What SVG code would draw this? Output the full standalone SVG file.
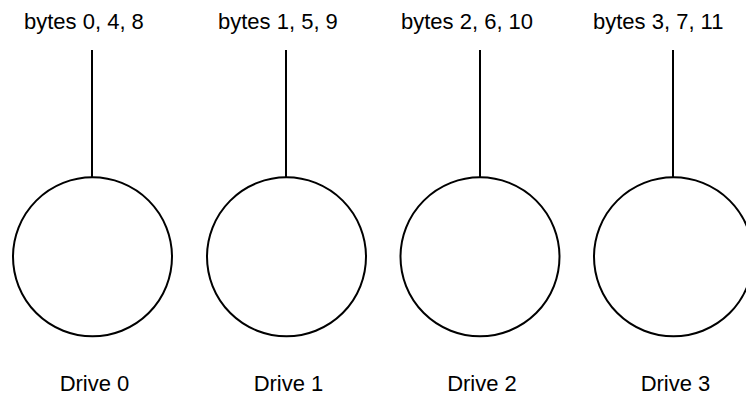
<svg xmlns="http://www.w3.org/2000/svg" width="746" height="396" viewBox="0 0 746 396">
<style>
.lbl{font-family:"Liberation Sans",Arial,sans-serif;font-size:22px;fill:#000}
.disk{fill:#fff;stroke:#000;stroke-width:2}
.wire{stroke:#000;stroke-width:2;fill:none}
</style>
<rect width="746" height="396" fill="#fff"/>
<g id="connectors">
<line class="wire" x1="92" y1="50" x2="92" y2="177"/>
<line class="wire" x1="286" y1="50" x2="286" y2="177"/>
<line class="wire" x1="480" y1="50" x2="480" y2="177"/>
<line class="wire" x1="673" y1="50" x2="673" y2="177"/>
</g>
<g id="label0"><text class="lbl" x="24" y="29">bytes 0, 4, 8</text></g>
<g id="label1"><text class="lbl" x="218" y="29">bytes 1, 5, 9</text></g>
<g id="label2"><text class="lbl" x="401" y="29">bytes 2, 6, 10</text></g>
<g id="label3"><text class="lbl" x="593" y="29">bytes 3, 7, 11</text></g>
<g id="drive0"><circle class="disk" cx="92.5" cy="256.8" r="79.5"/><text class="lbl" x="94.5" y="391" text-anchor="middle">Drive 0</text></g>
<g id="drive1"><circle class="disk" cx="286.5" cy="256.8" r="79.5"/><text class="lbl" x="288.5" y="391" text-anchor="middle">Drive 1</text></g>
<g id="drive2"><circle class="disk" cx="480" cy="256.8" r="79.5"/><text class="lbl" x="482" y="391" text-anchor="middle">Drive 2</text></g>
<g id="drive3"><circle class="disk" cx="673.5" cy="256.8" r="79.5"/><text class="lbl" x="675.5" y="391" text-anchor="middle">Drive 3</text></g>
</svg>
